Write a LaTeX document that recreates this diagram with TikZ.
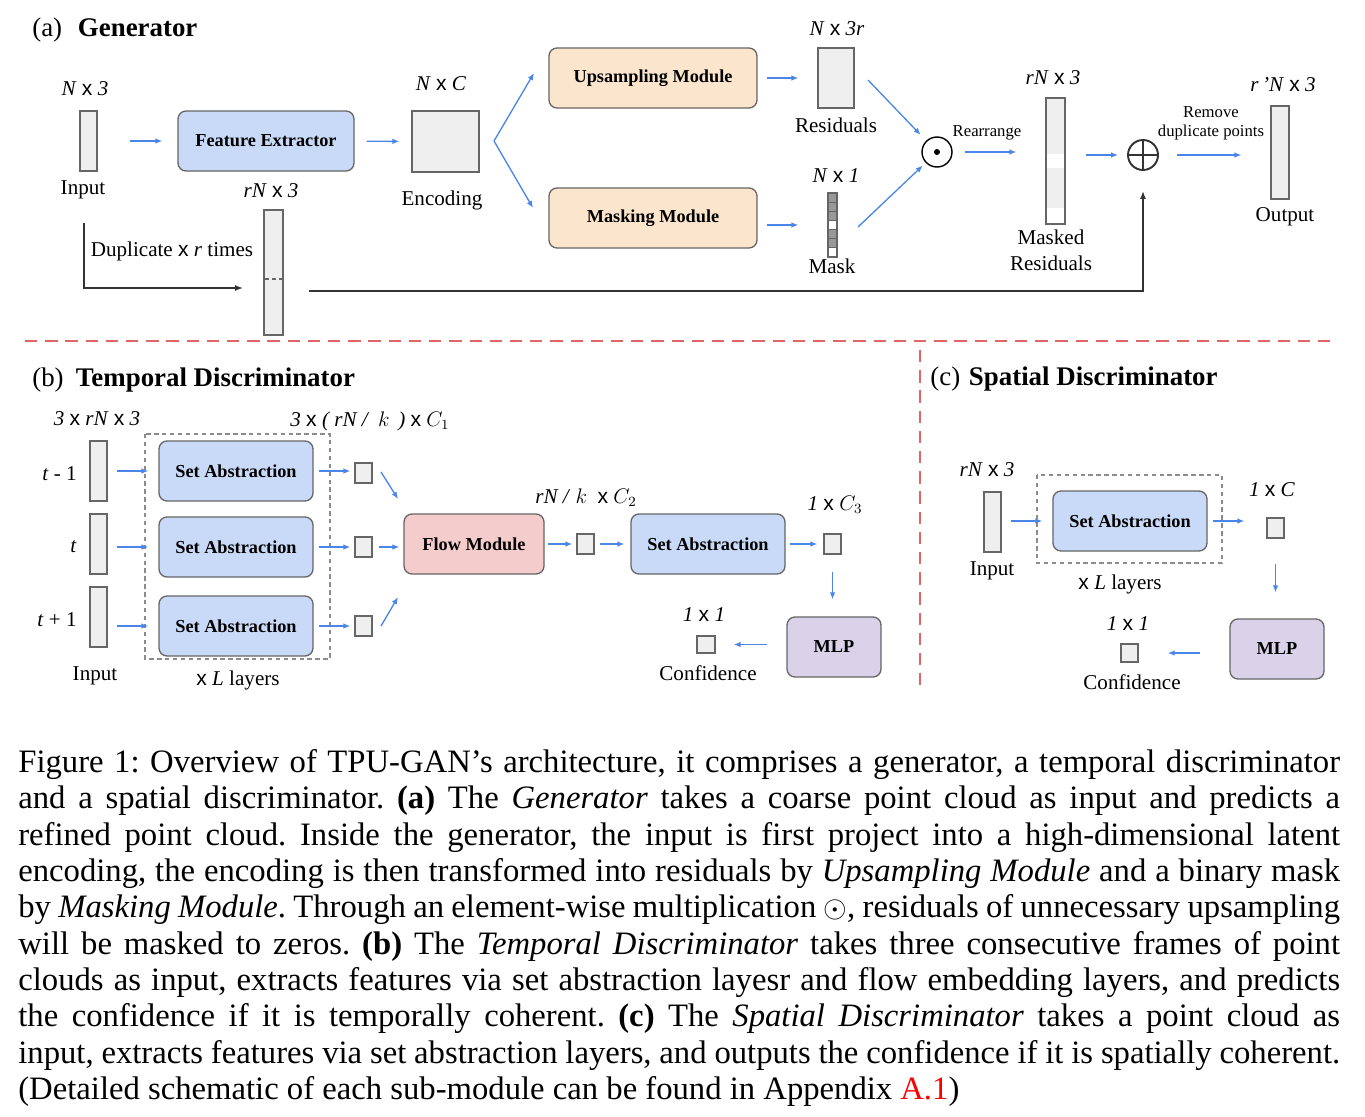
\documentclass[tikz,border=0pt]{standalone}
\usepackage{fontspec}
\setmainfont{Liberation Serif}
\setsansfont{Liberation Sans}
\usetikzlibrary{arrows.meta}
\definecolor{arrblue}{HTML}{4A86E8}
\definecolor{bargray}{HTML}{EFEFEF}
\definecolor{edgegray}{HTML}{666666}
\definecolor{maskgray}{HTML}{999999}
\definecolor{feblue}{HTML}{C9DAF8}
\definecolor{modorange}{HTML}{FCE5CD}
\definecolor{flowred}{HTML}{F4CCCC}
\definecolor{mlppurple}{HTML}{D9D2E9}
\definecolor{sepred}{HTML}{E06666}
\newcommand{\byx}{\textsf{x}}

\begin{document}
\begin{tikzpicture}[x=0.02cm, y=-0.02cm,
    sz/.style 2 args={minimum width={(#1)*0.02cm}, minimum height={(#2)*0.02cm}},
    gap/.style 2 args={shorten <={(#1)*0.02cm}, shorten >={(#2)*0.02cm}},
    modbox/.style={draw=edgegray, line width=0.75pt, rounded corners=0.16cm, inner sep=0pt, font=\fontsize{10.4}{12}\selectfont\bfseries},
    bar/.style={draw=edgegray, fill=bargray, line width=0.75pt, inner sep=0pt},
    lbl/.style={inner sep=0pt, align=center, font=\fontsize{12}{14.7}\selectfont},
    note/.style={inner sep=0pt, align=center, font=\fontsize{9.5}{11}\selectfont},
    head/.style={inner sep=0pt, anchor=base west, font=\fontsize{15.3}{18}\selectfont},
    barrow/.style={draw=arrblue, line width=0.75pt, -{Latex[length=4pt,width=3.2pt]}},
    karrow/.style={draw=black!80, line width=0.85pt, -{Latex[length=4.5pt,width=3.4pt]}},
    sep/.style={draw=sepred, line width=1.2pt, dash pattern=on 7pt off 4.5pt},
    layerbox/.style={draw=black!45, line width=0.6pt, dash pattern=on 2.5pt off 2pt}]

    \path[use as bounding box, fill=white] (0,0) rectangle (1365,1116);

    % (a) Generator
    \node[head] (ta) at (32,36) {(a)\hspace{9pt}\textbf{Generator}};

    \node[bar, sz={17}{60}] (inp) at (88.5,141) {};
    \node[lbl] (inpdim) at (85,89) {\textit{N} \byx{} \textit{3}};
    \node[lbl] (inplbl) at (83,190) {Input};

    \node[modbox, fill=feblue, sz={176}{60}] (fe) at (266,141) {Feature Extractor};

    \node[bar, sz={67}{61}] (enc) at (445.5,141.5) {};
    \node[lbl] (encdim) at (441,84) {\textit{N} \byx{} \textit{C}};
    \node[lbl] (enclbl) at (442,200) {Encoding};

    \node[modbox, fill=modorange, sz={208}{60}] (up) at (653,78) {Upsampling Module};
    \node[modbox, fill=modorange, sz={208}{60}] (mm) at (653,218) {Masking Module};

    \node[bar, sz={36}{60}] (res) at (836,78) {};
    \node[lbl] (resdim) at (837,29) {\textit{N} \byx{} \textit{3r}};
    \node[lbl] (reslbl) at (836,125) {Residuals};

    \node[bar, sz={9}{64}] (mask) at (832.5,225) {};
    \foreach \i/\c in {0/maskgray, 1/maskgray, 2/maskgray, 3/white, 4/maskgray, 5/maskgray, 6/white} {
        \draw[draw=edgegray, fill=\c, line width=0.6pt] (828,{193+\i*9.14}) rectangle ++(9,9.14);
    }
    \node[lbl] (maskdim) at (836,176) {\textit{N} \byx{} \textit{1}};
    \node[lbl] (masklbl) at (832,266) {Mask};

    \node[circle, draw, line width=0.8pt, minimum size=0.6cm, inner sep=0pt] (dot) at (937,152) {};
    \fill (dot) circle (3);

    \node[bar, sz={19}{126}] (mres) at (1055.5,161) {};
    \fill[white] (1047,154) rectangle (1064,168);
    \fill[white] (1047,208) rectangle (1064,223.3);
    \node[lbl] (mresdim) at (1053,78) {\textit{rN} \byx{} \textit{3}};
    \node[lbl] (mreslbl) at (1051,250) {Masked\\Residuals};

    \node[circle, draw=black!80, line width=1.1pt, minimum size=0.6cm, inner sep=0pt] (plus) at (1143,155) {};
    \draw[black!80, line width=1.1pt] (plus.north) -- (plus.south) (plus.west) -- (plus.east);

    \node[bar, sz={18}{93}] (out) at (1280,152.5) {};
    \node[lbl] (outdim) at (1283,85) {\textit{r\,'N} \byx{} \textit{3}};
    \node[lbl] (outlbl) at (1285,217) {Output};

    \node[bar, sz={19}{125}] (dup) at (273.5,272.5) {};
    \draw[edgegray, line width=0.6pt, dash pattern=on 2pt off 2pt] (265,279) -- (282,279);
    \node[lbl] (dupdim) at (271,191) {\textit{rN} \byx{} \textit{3}};
    \node[lbl] (duplbl) at (172,251) {Duplicate \byx{} \textit{r} times};

    \node[note] (rearr) at (987,133) {Rearrange};
    \node[note] (remove) at (1211,123) {Remove\\duplicate points};

    \coordinate (br) at (494,141);
    \coordinate (brT) at (534,73);
    \coordinate (brB) at (533,208);
    \coordinate (resout) at (868,80);
    \coordinate (maskout) at (858,227);
    \coordinate (d0) at (84,223);
    \coordinate (d1) at (243,288);
    \coordinate (s0) at (309,291);

    % Archi
    \draw[barrow, gap={32}{15}] (inp) -- (fe);
    \draw[barrow, gap={12}{12}] (fe) -- (enc);
    \draw[barrow] (br) -- (brT);
    \draw[barrow] (br) -- (brB);
    \draw[barrow, gap={9}{19}] (up) -- (res);
    \draw[barrow, gap={9}{29}] (mm.east |- mask) -- (mask.west);
    \draw[barrow, gap={0}{8}] (resout) -- (dot);
    \draw[barrow, gap={0}{4}] (maskout) -- (dot);
    \draw[barrow, gap={12}{29}] (dot) -- (dot -| mres.west);
    \draw[barrow, gap={20}{9}] (plus -| mres.east) -- (plus.west);
    \draw[barrow, gap={18}{29}] (plus.east) -- (plus -| out.west);
    \draw[karrow] (d0) |- (d1);
    \draw[karrow, gap={0}{20}] (s0) -| (plus);

    % separatori
    \draw[sep] (25,341) -- (1330,341);
    \draw[sep] (920,350) -- (920,685);

    % (b) Temporal Discriminator
    \node[head] (tb) at (32,386) {(b)\hspace{7pt}\textbf{Temporal Discriminator}};
    \draw[layerbox] (145,434) rectangle (330,659);

    \foreach \i/\y/\sy/\qy/\lab in {1/471/471/473/{\textit{t} - 1}, 2/544/547/547/{\textit{t}}, 3/617/626/626/{\textit{t} + 1}} {
        \node[bar, sz={17}{60}] (t\i) at (98.5,\y) {};
        \node[lbl, anchor=east] (tl\i) at (77,{\y+3}) {\lab};
        \node[modbox, fill=feblue, sz={154}{60}] (sa\i) at (236,\sy) {Set Abstraction};
        \node[bar, sz={17}{20}] (q\i) at (363.5,\qy) {};
        \draw[barrow, gap={9}{10}] (sa\i -| t\i.east) -- (sa\i.west);
        \draw[barrow, gap={5}{4}] (sa\i.east) -- (sa\i -| q\i.west);
    }
    \node[lbl] (tdim) at (97,419) {\textit{3} \byx{} \textit{rN} \byx{} \textit{3}};
    \node[lbl] (tinp) at (95,676) {Input};
    \node[lbl] (tlay) at (238,680) {\byx{} \textit{L} layers};
    \node[lbl] (qdim) at (370,421) {\textit{3} \byx{} \textit{( rN /} \,$k$\, \textit{)} \byx{} $C_1$};

    \node[modbox, fill=flowred, sz={140}{60}] (fm) at (474,544) {Flow Module};
    \coordinate (f1a) at (381,472);
    \coordinate (f1b) at (398,499);
    \coordinate (f3a) at (381,626);
    \coordinate (f3b) at (398,597);
    \draw[barrow] (f1a) -- (f1b);
    \draw[barrow] (f3a) -- (f3b);
    \draw[barrow, gap={6}{4}] (q2) -- (q2 -| fm.west);

    \node[bar, sz={17}{20}] (q4) at (585.5,544) {};
    \node[lbl] (q4dim) at (586,498) {\textit{rN /} $k$ \ \byx{} $C_2$};
    \node[modbox, fill=feblue, sz={154}{60}] (sa4) at (708,544) {Set Abstraction};
    \node[bar, sz={17}{20}] (q5) at (832.5,544) {};
    \node[lbl] (q5dim) at (835,505) {\textit{1} \byx{} $C_3$};
    \node[modbox, fill=mlppurple, sz={94}{60}] (mlp) at (834,647) {MLP};
    \node[bar, sz={18}{17}] (q6) at (706,644.5) {};
    \node[lbl] (q6dim) at (704,615) {\textit{1} \byx{} \textit{1}};
    \node[lbl] (conf) at (708,673) {Confidence};

    \draw[barrow, gap={3}{4}] (fm) -- (q4);
    \draw[barrow, gap={5}{6}] (q4) -- (sa4);
    \draw[barrow, gap={4}{6}] (sa4) -- (q5);
    \draw[barrow, gap={17}{17}] (q5) -- (q5 |- mlp.north);
    \draw[barrow, gap={19}{18}] (mlp.west |- q6) -- (q6);

    % (c) Spatial Discriminator
    \node[head] (tc) at (930,385) {(c)\hspace{5pt}\textbf{Spatial Discriminator}};
    \draw[layerbox] (1037,475) rectangle (1222,563);

    \node[bar, sz={17}{60}] (sinp) at (992.5,522) {};
    \node[lbl] (sdim) at (987,470) {\textit{rN} \byx{} \textit{3}};
    \node[lbl] (slbl) at (992,571) {Input};
    \node[modbox, fill=feblue, sz={154}{60}] (sa5) at (1130,521) {Set Abstraction};
    \node[lbl] (slay) at (1120,584) {\byx{} \textit{L} layers};
    \node[bar, sz={17}{20}] (q7) at (1275.5,528) {};
    \node[lbl] (q7dim) at (1272,490) {\textit{1} \byx{} \textit{C}};
    \node[modbox, fill=mlppurple, sz={94}{60}] (mlp2) at (1277,649) {MLP};
    \node[bar, sz={17}{18}] (q8) at (1129.5,653) {};
    \node[lbl] (q8dim) at (1128,624) {\textit{1} \byx{} \textit{1}};
    \node[lbl] (sconf) at (1132,682) {Confidence};

    \draw[barrow, gap={9}{10}] (sa5 -| sinp.east) -- (sa5.west);
    \draw[barrow, gap={5}{22}] (sa5.east) -- (sa5 -| q7.west);
    \draw[barrow, gap={25}{26}] (q7) -- (q7 |- mlp2.north);
    \draw[barrow, gap={29}{29}] (mlp2.west |- q8) -- (q8);

    % didascalia
    \node[anchor=north west, inner sep=0pt, text width=26.44cm, align=justify,
          font=\fontsize{18.6}{20.7}\selectfont] (cap) at (18,749) {%
        \frenchspacing\hyphenpenalty=10000 \emergencystretch=2em
        Figure 1: Overview of TPU-GAN's architecture, it comprises a generator, a temporal discriminator\linebreak
        and a spatial discriminator. \textbf{(a)} The \textit{Generator} takes a coarse point cloud as input and predicts a\linebreak
        refined point cloud. Inside the generator, the input is first project into a high-dimensional latent\linebreak
        encoding, the encoding is then transformed into residuals by \textit{Upsampling Module} and a binary mask\linebreak
        by \textit{Masking Module}. Through an element-wise multiplication $\odot$, residuals of unnecessary upsampling\linebreak
        will be masked to zeros. \textbf{(b)} The \textit{Temporal Discriminator} takes three consecutive frames of point\linebreak
        clouds as input, extracts features via set abstraction layesr and flow embedding layers, and predicts\linebreak
        the confidence if it is temporally coherent. \textbf{(c)} The \textit{Spatial Discriminator} takes a point cloud as\linebreak
        input, extracts features via set abstraction layers, and outputs the confidence if it is spatially coherent.\linebreak
        (Detailed schematic of each sub-module can be found in Appendix \textcolor{red}{A.1})};
\end{tikzpicture}
\end{document}
